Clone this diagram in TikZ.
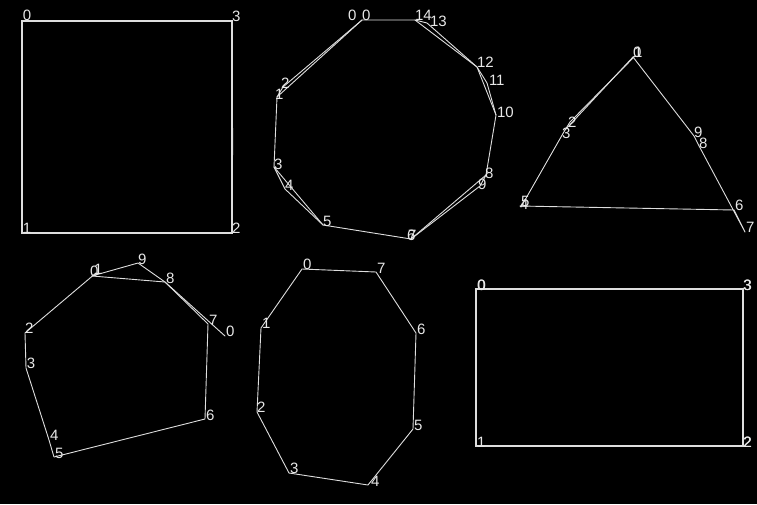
\documentclass[tikz,border=0pt]{standalone}
\usepackage{fontspec}
\newfontfamily\labfont{Liberation Sans}
\definecolor{lc}{RGB}{222,222,222}
\definecolor{tc}{RGB}{232,232,232}
\tikzset{
  edge/.style={draw=lc, line width=0.9pt, line join=round, line cap=round},
  thickedge/.style={draw=lc, line width=1.4pt, line join=miter},
  lab/.style={text=tc, font=\labfont\fontsize{15}{15}\selectfont, anchor=base west, inner sep=0pt, outer sep=0pt},
}
\begin{document}
\begin{tikzpicture}[x=1pt,y=-1pt]
\fill[black] (0,0) rectangle (757,504);
\useasboundingbox (0,0) rectangle (757,504);

% ---------- square (top left)
\coordinate (s0) at (22,21);
\coordinate (s1) at (22,233);
\coordinate (s2) at (232,233);
\coordinate (s3) at (232,21);
\coordinate (s2b) at (232.4,128);
\draw[thickedge] (s0) -- (s1) -- (s2) -- (s3) -- cycle;
\draw[thickedge] (s2) -- (s2b);
\node[lab] (ls0) at (23,20) {0};
\node[lab] (ls1) at (23,233) {1};
\node[lab] (ls2) at (232,233) {2};
\node[lab] (ls3) at (232,21) {3};

% ---------- octagon (top middle)
\coordinate (oA) at (362,20);
\coordinate (oB) at (415,20);
\coordinate (oC) at (427,23);
\coordinate (oD) at (477,67);
\coordinate (oE) at (487,83);
\coordinate (oF) at (496,115);
\coordinate (oG) at (486,175);
\coordinate (oH) at (480,186);
\coordinate (oI) at (411,239);
\coordinate (oJ) at (323,225);
\coordinate (oK) at (285,189);
\coordinate (oL) at (274,167);
\coordinate (oM) at (277,97);
\coordinate (oN) at (283,87);
\draw[edge] (oA) -- (oB) -- (oC) -- (oD) -- (oE) -- (oF) -- (oG) -- (oI) -- (oJ) -- (oK) -- (oL) -- (oM) -- (oA);
\draw[edge] (oB) -- (oD) -- (oF);
\draw[edge] (oG) -- (oH) -- (oI);
\draw[edge] (oJ) -- (oL);
\draw[edge] (oM) -- (oN) -- (oA);
\node[lab] (lo0a) at (348,20) {0};
\node[lab] (lo0b) at (362,20) {0};
\node[lab] (lo14) at (415,20) {14};
\node[lab] (lo13) at (430,26) {13};
\node[lab] (lo12) at (477,67) {12};
\node[lab] (lo11) at (489,85) {11};
\node[lab] (lo10) at (497,117) {10};
\node[lab] (lo8) at (485,178) {8};
\node[lab] (lo9) at (478,189) {9};
\node[lab] (lo6) at (407,240) {6};
\node[lab] (lo7) at (408,240) {7};
\node[lab] (lo5) at (323,226) {5};
\node[lab] (lo4) at (285,190) {4};
\node[lab] (lo3) at (274,169) {3};
\node[lab] (lo2) at (281,88) {2};
\node[lab] (lo1) at (275,99) {1};

% ---------- triangle (top right)
\coordinate (t0) at (633,57);
\coordinate (t1) at (635,56);
\coordinate (t2) at (570,122);
\coordinate (t3) at (565,130);
\coordinate (t4) at (521,207);
\coordinate (t5) at (520,206);
\coordinate (t6) at (734,210);
\coordinate (t7) at (745,232);
\coordinate (t8) at (698,144);
\coordinate (t9) at (694,136);
\draw[edge] (t0) -- (t1) -- (t2) -- (t3) -- (t4) -- (t5) -- (t6) -- (t7) -- (t8) -- (t9) -- (t0);
\draw[edge] (t0) -- (t3);
\node[lab] (lt0) at (633,57) {0};
\node[lab] (lt1) at (634,57) {1};
\node[lab] (lt2) at (568,127) {2};
\node[lab] (lt3) at (562,138) {3};
\node[lab] (lt4) at (520,209) {4};
\node[lab] (lt5) at (521,206) {5};
\node[lab] (lt6) at (735,210) {6};
\node[lab] (lt7) at (746,232) {7};
\node[lab] (lt8) at (699,148) {8};
\node[lab] (lt9) at (694,137) {9};

% ---------- polygon (bottom left)
\coordinate (q0) at (92,276);
\coordinate (q1) at (96,273);
\coordinate (q2) at (25,333);
\coordinate (q3) at (26,368);
\coordinate (q4) at (49,440);
\coordinate (q5) at (54,457);
\coordinate (q6) at (205,419);
\coordinate (q7) at (208,324);
\coordinate (q8) at (165,282);
\coordinate (q9) at (138,263);
\coordinate (q0r) at (225,336);
\draw[edge] (q0) -- (q1) -- (q2) -- (q3) -- (q4) -- (q5) -- (q6) -- (q7) -- (q8) -- (q9) -- (q0);
\draw[edge] (q0r) -- (q8) -- (q0);
\node[lab] (lq0) at (90,276) {0};
\node[lab] (lq1) at (94,274) {1};
\node[lab] (lq2) at (25,333) {2};
\node[lab] (lq3) at (27,368) {3};
\node[lab] (lq4) at (50,440) {4};
\node[lab] (lq5) at (55,458) {5};
\node[lab] (lq6) at (206,420) {6};
\node[lab] (lq7) at (209,325) {7};
\node[lab] (lq8) at (166,283) {8};
\node[lab] (lq9) at (138,264) {9};
\node[lab] (lq0r) at (226,336) {0};

% ---------- octagon (bottom middle)
\coordinate (r0) at (302,269);
\coordinate (r1) at (261,328);
\coordinate (r2) at (257,412);
\coordinate (r3) at (289,473);
\coordinate (r4) at (368,485);
\coordinate (r5) at (413,429);
\coordinate (r6) at (416,333);
\coordinate (r7) at (376,272);
\draw[edge] (r0) -- (r1) -- (r2) -- (r3) -- (r4) -- (r5) -- (r6) -- (r7) -- cycle;
\node[lab] (lr0) at (303,269) {0};
\node[lab] (lr1) at (262,328) {1};
\node[lab] (lr2) at (257,412) {2};
\node[lab] (lr3) at (290,473) {3};
\node[lab] (lr4) at (371,486) {4};
\node[lab] (lr5) at (414,430) {5};
\node[lab] (lr6) at (417,334) {6};
\node[lab] (lr7) at (377,273) {7};

% ---------- rectangle (bottom right)
\coordinate (u0) at (476,289);
\coordinate (u1) at (476,446);
\coordinate (u2) at (743,446);
\coordinate (u3) at (743,289);
\draw[thickedge] (u0) -- (u1) -- (u2) -- (u3) -- cycle;
\node[lab] (lu0) at (477,290) {0};
\node[lab] (lu0b) at (477.6,290) {0};
\node[lab] (lu1) at (477,447) {1};
\node[lab] (lu2) at (743,447) {2};
\node[lab] (lu2b) at (743.6,447) {2};
\node[lab] (lu3) at (743,290) {3};
\node[lab] (lu3b) at (743.6,290) {3};
\end{tikzpicture}
\end{document}
